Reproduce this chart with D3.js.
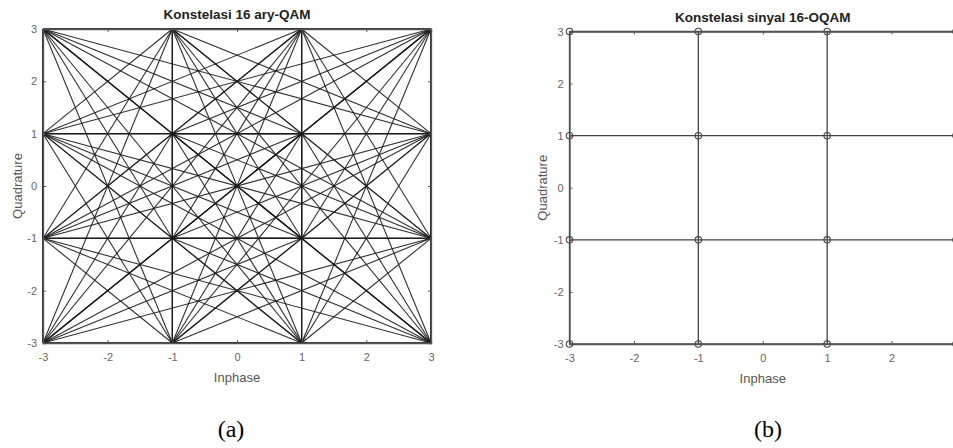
<!DOCTYPE html>
<html>
<head>
<meta charset="utf-8">
<script src="https://cdn.jsdelivr.net/npm/d3@7"></script>
<style>
  html, body { margin: 0; padding: 0; background: #fff; }
  svg { display: block; font-family: "Liberation Sans", Arial, sans-serif; }
</style>
</head>
<body>
<svg id="chart" width="953" height="448"></svg>
<script>
// 16-QAM amplitude levels on each axis
const levels = [-3, -1, 1, 3];
const tickValues = [-3, -2, -1, 0, 1, 2, 3];
const titles = ["Konstelasi 16 ary-QAM", "Konstelasi sinyal 16-OQAM"];
const captions = ["(a)", "(b)"];
const xLabel = "Inphase";
const yLabel = "Quadrature";

// constellation points
const points = [];
levels.forEach(i => levels.forEach(q => points.push({ i, q })));

// (a) every symbol transition: all pairs of points
const transitions = [];
for (let a = 0; a < points.length; a++)
  for (let b = a + 1; b < points.length; b++)
    transitions.push([points[a], points[b]]);

// (b) grid segments between neighbouring points
const gridSegs = [];
levels.forEach(v => {
  gridSegs.push([{ i: -3, q: v }, { i: 3, q: v }]);
  gridSegs.push([{ i: v, q: -3 }, { i: v, q: 3 }]);
});

const svg = d3.select("#chart");
const fmt = d => String(d);   // plain hyphen for negatives

const panels = [
  { x0: 43, x1: 431, y0: 343, y1: 29, title: titles[0], caption: captions[0], capX: 231, yLabX: 17 },
  { x0: 569.5, x1: 956, y0: 344, y1: 31.5, title: titles[1], caption: captions[1], capX: 768, yLabX: 542 }
];

panels.forEach((p, idx) => {
  const x = d3.scaleLinear().domain([-3, 3]).range([p.x0, p.x1]);
  const y = d3.scaleLinear().domain([-3, 3]).range([p.y0, p.y1]);
  const g = svg.append("g");

  // data
  if (idx === 0) {
    g.append("g").selectAll("line").data(transitions).join("line")
      .attr("x1", d => x(d[0].i)).attr("y1", d => y(d[0].q))
      .attr("x2", d => x(d[1].i)).attr("y2", d => y(d[1].q))
      .attr("stroke", "#1a1a1a").attr("stroke-width", 1.1).attr("stroke-opacity", 0.9);
  } else {
    g.append("g").selectAll("line").data(gridSegs).join("line")
      .attr("x1", d => x(d[0].i)).attr("y1", d => y(d[0].q))
      .attr("x2", d => x(d[1].i)).attr("y2", d => y(d[1].q))
      .attr("stroke", "#444").attr("stroke-width", 1.3);
    g.append("g").selectAll("circle").data(points).join("circle")
      .attr("cx", d => x(d.i)).attr("cy", d => y(d.q)).attr("r", 3.2)
      .attr("fill", "none").attr("stroke", "#444").attr("stroke-width", 1.1);
  }

  // axes with inward ticks, box style
  const tickLen = 3;
  const axB = g.append("g").attr("transform", `translate(0,${p.y0})`)
    .call(d3.axisBottom(x).tickValues(tickValues).tickSize(-tickLen).tickPadding(10).tickFormat(fmt));
  const axL = g.append("g").attr("transform", `translate(${p.x0},0)`)
    .call(d3.axisLeft(y).tickValues(tickValues).tickSize(-tickLen).tickPadding(6).tickFormat(fmt));
  const axT = g.append("g").attr("transform", `translate(0,${p.y1})`)
    .call(d3.axisTop(x).tickValues(tickValues).tickSize(-tickLen).tickFormat(""));
  const axR = g.append("g").attr("transform", `translate(${p.x1},0)`)
    .call(d3.axisRight(y).tickValues(tickValues).tickSize(-tickLen).tickFormat(""));
  [axB, axL, axT, axR].forEach(a => {
    a.select(".domain").attr("stroke", "#555").attr("stroke-width", 1.3);
    a.selectAll(".tick line").attr("stroke", "#555");
    a.selectAll(".tick text").attr("fill", "#666").attr("font-size", 11)
      .attr("font-family", "Liberation Sans, Arial, sans-serif");
  });

  // title
  g.append("text").attr("x", (p.x0 + p.x1) / 2).attr("y", p.y1 - 10)
    .attr("text-anchor", "middle").attr("font-size", 13.5).attr("font-weight", "bold")
    .attr("fill", "#222").text(p.title);

  // axis labels
  g.append("text").attr("x", (p.x0 + p.x1) / 2).attr("y", p.y0 + 39)
    .attr("text-anchor", "middle").attr("font-size", 13).attr("fill", "#555")
    .text(xLabel);
  g.append("text").attr("transform", `translate(${p.yLabX + 5},${(p.y0 + p.y1) / 2}) rotate(-90)`)
    .attr("text-anchor", "middle").attr("font-size", 13).attr("fill", "#555")
    .text(yLabel);

  // caption
  svg.append("text").attr("x", p.capX).attr("y", 437)
    .attr("text-anchor", "middle").attr("font-size", 24)
    .attr("font-family", "Liberation Serif, Times New Roman, serif").attr("fill", "#000")
    .text(p.caption);
});
</script>
</body>
</html>
